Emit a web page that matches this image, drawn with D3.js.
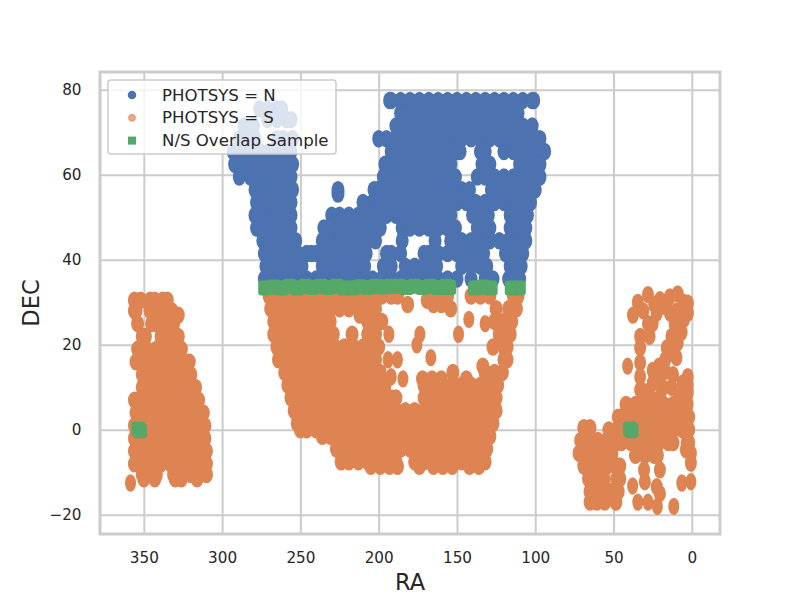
<!DOCTYPE html>
<html>
<head>
<meta charset="utf-8">
<script src="https://cdn.jsdelivr.net/npm/d3@7"></script>
<style>
  body { margin: 0; background: #fff; }
  text { font-family: "DejaVu Sans", sans-serif; fill: #262626; }
  .tick text { font-size: 15.2px; }
  .axis-title { font-size: 22.5px; }
  .legend-label { font-size: 16.6px; }
  .grid line { stroke: #cccccc; stroke-width: 2px; }
</style>
</head>
<body>
<div id="chart"></div>
<script>
// tile centres, one row per DEC: [dec, [ra, ra, ...]]
const northRows = [
  [77.5, [193,192,186,180,174,168,162,156,150,144,138,132,126,120,114,108,102,101]],
  [75.5, [276,271,265,262]],
  [74.5, [186,183,177,171,165,159,153,147,141,135,129,123,117,111]],
  [73, [271,265,259,256]],
  [71.5, [286,280,189,186,180,174,168,162,156,150,144,138,132,126,120,114,108,102]],
  [68.5, [289,285,279,265,261,255,200,195,189,183,177,171,165,159,153,147,141,135,129,123,117,111,105,99,97]],
  [65.5, [293,288,282,276,270,264,258,256,192,186,180,174,168,162,156,150,148,135,132,120,114,108,102,96,94]],
  [62.5, [292,291,285,279,273,267,261,255,196,195,189,183,177,171,165,159,154,134,129,110,105,99,97]],
  [59.5, [289,282,276,270,264,258,256,197,192,186,180,174,168,162,156,151,137,132,126,120,114,108,102,97]],
  [56.5, [279,273,267,261,255,226,203,201,195,189,183,177,171,165,159,153,147,142,128,123,117,111,105,100]],
  [55.5, [226]],
  [53.5, [278,276,270,264,258,256,210,204,198,192,186,180,174,168,162,156,150,144,138,132,126,120,114,108,103]],
  [50.5, [279,273,267,261,256,230,225,219,213,207,201,195,189,183,177,171,165,159,154,140,135,130,116,111,105]],
  [47.5, [278,276,270,264,258,256,235,228,222,216,210,204,199,185,180,174,168,162,156,151,137,132,129,116,114,108,106]],
  [44.5, [274,273,267,261,255,253,236,231,225,219,213,207,202,185,164,154,147,141,135,129,123,117,111,106]],
  [41.5, [273,270,264,258,252,246,243,240,234,228,222,216,210,208,195,192,186,171,168,162,156,150,144,138,133,119,114,108]],
  [38.5, [272,267,261,255,249,236,231,225,219,213,209,197,192,183,177,171,165,163,147,141,135,131,116,111,109]],
  [35.5, [273,270,264,258,252,246,240,234,228,222,216,210,204,198,192,186,180,174,168,162,156,150,141,132,127,117,114,110]]
];

const southRows = [
  // main footprint
  [31.5, [270,264,258,252,246,240,234,228,222,216,210,204,198,192,188,168,162,156,141,135,129,114,111]],
  [30.5, [169]],
  [29.5, [181.5,165,160]],
  [28.5, [269,267,261,255,249,243,237,231,225,219,213,207,202,154,125,117,112]],
  [27, [212]],
  [25.5, [267,264,258,252,246,240,234,231,207,202,198,126,120,115]],
  [22.5, [267,261,255,249,243,237,232,229,217,207,202,123,117,116]],
  [19.5, [265,264,258,252,246,240,234,228,222,216,210,204,200,127,120,118]],
  [16.5, [264,261,255,249,243,237,231,225,219,213,207,202,120,118]],
  [15, [133.5]],
  [13.5, [260,258,252,246,240,234,228,222,216,210,204,199,152.6,132,126,121]],
  [12, [172,166,160,144]],
  [10.5, [258,255,249,243,237,231,225,219,213,207,201,196,171,165,159,153,147,141,135,129,124]],
  [7.5, [256,252,246,240,234,228,222,216,210,204,198,192,189,171,168,162,156,150,144,138,132,126,125]],
  [4.5, [254,249,243,237,231,225,219,213,207,201,195,189,183,177,171,165,159,153,147,141,135,129,125]],
  [1.5, [252,246,240,234,228,222,216,210,204,198,192,186,180,174,168,162,156,150,144,138,132,127]],
  [0, [250,246,240]],
  [-1.5, [236,231,225,219,213,207,201,195,189,183,177,171,165,159,153,147,141,135,129]],
  [-4.5, [227,222,216,210,204,198,192,186,180,174,168,162,156,150,144,138,132,131]],
  [-7.5, [224,219,213,207,201,195,189,177,171,165,159,153,147,141,135,132]],
  [-8.6, [205,199,193,188,174,165,159,153,142,136]],
  // west patch
  [30.5, [356,352,346,343,338,335]],
  [28, [356,355,346,340,334,332]],
  [27, [328]],
  [25, [354,345,342,336,331]],
  [22, [351,349,339,333,328]],
  [19, [354,348,342,336,330,326]],
  [16, [355,351,345,339,333,327,321]],
  [13, [351,348,342,336,330,324,320]],
  [10, [351,345,339,333,327,321,317]],
  [7, [356,354,348,342,336,330,324,318,315]],
  [4, [355,351,345,339,333,327,321,315,312]],
  [1, [356,354,348,342,336,330,324,318,312,311]],
  [-2, [356,351,345,339,333,327,321,315,311]],
  [-5, [356,354,348,342,336,330,324,318,312,310]],
  [-8, [356,351,345,339,333,327,321,315,310]],
  [-10.5, [351,345,342,331,326,320,315,310]],
  [-11.5, [350,343,330,326,316]],
  // east patch
  [6, [42,36,30,24,18,12,6,3]],
  [3, [47,45,39,33,27,21,15,9,3,2]],
  [0, [53,48,42,36,30,24,18,12,6,2]],
  [-3, [53,48,45,39,33,27,21,15,12,3,2]],
  [-6, [36,30,24,22]],
  // south-west corner of the east patch
  [0.5, [69,65]],
  [-2.5, [71,66,60,54,50]],
  [-5.5, [72,69,63,57,51]],
  [-8.5, [69,66,60,54,48,46]],
  [-11.5, [66,60,56,48,46]],
  [-14.5, [65,62,57,52.4,47]],
  [-17, [65,60.7,55.6,48.5]]
];

// isolated tiles in the south: [ra, dec]
const southSingles = [
  [142.4,26],[132,25],[193.5,22.5],[173.7,22.5],[175.6,20],[149,22.5],[166.7,17],[194,16.5],[188,16.5],
  [192,12.5],[184.5,12],[358.5,-12.5],
  [41,15],[37.8,-13.2],[6.4,-12.5],[0.6,-12.2],[34.5,-17],[28,-17],[22,-18],[11.5,-18]
];

// chains of tiles in the east patch: [ra, dec]
const southChains = [
  [28,31.8],[34.5,30],[37.6,27],[20.4,30.6],[14,31.3],[9,32],[2.5,29.8],[2.5,27.5],[9.6,28],[22.4,27.5],
  [5,30],[5,26],[14,27.5],[17,29],[24,29.5],[25,25],[31,28],
  [28,25],[33,22],[27,22],[11,25],[6.5,23],[13,22],[9,20.5],[16,19.3],[9.8,17],[33,19.3],[33,15.8],
  [17,16.5],[25,14],[17,13.7],[12,13],[2.6,12.5],[6,11],[33,12.5],[33,9.4],[25,11],[18.5,10],[2.6,8.7],
  [14,18],[21,15],[22,12],[13,10],[8,8],[30,9],[27,8],[20,8],[2.6,10.5],
  [3.8,-4.7],[0.6,-7.8],[0.6,-5.5],[30.5,-9.4],[20.4,-9.4],[30,-12.2],[22.4,-13.4],[20.4,-15]
];

const overlapRa = [272.5,267,262,257,252,247,242,237,232,227,222,217,212,207,202,197,192,187,182,177,172,167,162,157,155,138.5,133,128.5,115,110.5,353.5,352.5,39.5,38.5];
const overlapDec = [33.4,33.6,33.4,33.8,33.4,33.8,33.5,33.8,33.5,33.8,33.4,33.4,33.7,33.5,33.8,33.6,33.8,33.8,33.5,33.8,33.5,33.8,33.5,33.8,33.5,33.4,33.6,33.4,33.4,33.4,0.2,-0.2,0.2,-0.2];

const raTicks = [350,300,250,200,150,100,50,0];
const decTicks = [80,60,40,20,0,-20];
const legendLabels = ['PHOTSYS = N','PHOTSYS = S','N/S Overlap Sample'];

const width = 800, height = 600;
const margin = { top: 72, right: 80, bottom: 66, left: 100 };
const innerW = width - margin.left - margin.right;
const innerH = height - margin.top - margin.bottom;

const colors = { north: '#4c72b0', south: '#dd8452', overlap: '#55a868' };

const svg = d3.select('#chart').append('svg')
  .attr('width', width)
  .attr('height', height);

const chart = svg.append('g')
  .attr('transform', `translate(${margin.left},${margin.top})`);

const xScale = d3.scaleLinear().domain([378, -18]).range([0, innerW]);
const yScale = d3.scaleLinear().domain([84.2, -24.5]).range([0, innerH]);

// axes double as the grid
const xAxis = d3.axisBottom(xScale).tickValues(raTicks).tickSize(-innerH).tickPadding(18)
  .tickFormat(d => d < 0 ? '\u2212' + (-d) : d);
const yAxis = d3.axisLeft(yScale).tickValues(decTicks).tickSize(-innerW).tickPadding(18.5)
  .tickFormat(d => d < 0 ? '\u2212' + (-d) : d);

chart.append('g').attr('class', 'grid')
  .attr('transform', `translate(0,${innerH})`)
  .call(xAxis)
  .call(g => g.select('.domain').remove());

chart.append('g').attr('class', 'grid')
  .call(yAxis)
  .call(g => g.select('.domain').remove());

const fromRows = rows => rows.flatMap(([dec, ras]) => ras.map(ra => [ra, dec]));

const drawTiles = (points, color, rx) => chart.append('g')
  .selectAll('ellipse')
  .data(points)
  .join('ellipse')
  .attr('cx', d => xScale(d[0]))
  .attr('cy', d => yScale(d[1]))
  .attr('rx', rx)
  .attr('ry', 8.7)
  .attr('fill', color);

drawTiles(fromRows(northRows), colors.north, 6.5);
drawTiles(fromRows(southRows), colors.south, 6.5);
drawTiles(southChains, colors.south, 6);
drawTiles(southSingles, colors.south, 5.5);

chart.append('g')
  .selectAll('rect')
  .data(overlapRa.map((ra, i) => [ra, overlapDec[i]]))
  .join('rect')
  .attr('x', d => xScale(d[0]) - 7)
  .attr('y', d => yScale(d[1]) - 7.5)
  .attr('width', 14)
  .attr('height', 15)
  .attr('rx', 3)
  .attr('fill', colors.overlap);

// spines
chart.append('rect')
  .attr('width', innerW)
  .attr('height', innerH)
  .attr('fill', 'none')
  .attr('stroke', '#cccccc')
  .attr('stroke-width', 3);

chart.append('text')
  .attr('class', 'axis-title')
  .attr('x', innerW / 2)
  .attr('y', innerH + 56)
  .attr('text-anchor', 'middle')
  .text('RA');

svg.append('text')
  .attr('class', 'axis-title')
  .attr('transform', `translate(39,${margin.top + innerH / 2}) rotate(-90)`)
  .attr('text-anchor', 'middle')
  .text('DEC');

// legend sits over the points, with a see-through background
const legend = svg.append('g').attr('transform', 'translate(108,80)');

legend.append('rect')
  .attr('width', 228)
  .attr('height', 74)
  .attr('rx', 3)
  .attr('fill', 'rgba(255,255,255,0.8)')
  .attr('stroke', '#cccccc')
  .attr('stroke-width', 1.5);

const legendItems = legend.selectAll('g.item')
  .data(legendLabels)
  .join('g')
  .attr('class', 'item')
  .attr('transform', (d, i) => `translate(0,${15 + i * 22.8})`);

legendItems.append('text')
  .attr('class', 'legend-label')
  .attr('x', 54)
  .attr('y', 5.5)
  .text(d => d);

legendItems.filter((d, i) => i < 2).append('circle')
  .attr('cx', 24)
  .attr('r', 3.5)
  .attr('fill', (d, i) => i === 0 ? colors.north : colors.south)
  .attr('fill-opacity', (d, i) => i === 0 ? 1 : 0.7)
  .attr('stroke', (d, i) => i === 0 ? colors.north : colors.south)
  .attr('stroke-width', 1.5)
  .attr('stroke-opacity', (d, i) => i === 0 ? 1 : 0.4);

legendItems.filter((d, i) => i === 2).append('rect')
  .attr('x', 20)
  .attr('y', -4)
  .attr('width', 8)
  .attr('height', 8)
  .attr('fill', colors.overlap);
</script>
</body>
</html>
